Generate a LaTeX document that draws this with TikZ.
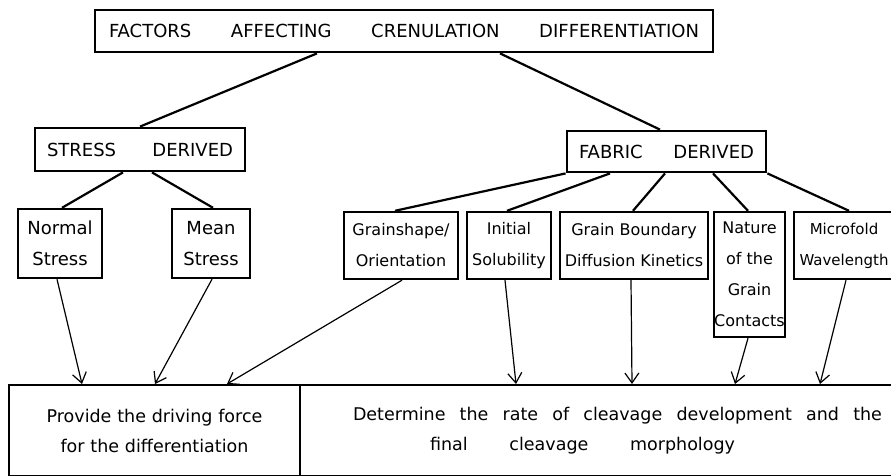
\documentclass[tikz,border=0pt]{standalone}
\usepackage{fontspec}
\setsansfont{DejaVu Sans}
\usetikzlibrary{arrows.meta}

% spread the words of one line over a given width
\newcommand{\spreadline}[2]{\makebox[#1][s]{\spaceskip=0pt\relax #2}}

\begin{document}
\begin{tikzpicture}[
      x=1pt, y=-1pt,
      font=\sffamily,
      >={Straight Barb[length=10pt,width=14pt]},
      head/.style={
        draw,
        line width=2.8pt,
        inner sep=0pt,
        align=center,
        font=\sffamily\fontsize{18}{22}\selectfont
      },
      leaf/.style={
        draw,
        line width=2.4pt,
        inner sep=0pt,
        align=center,
        font=\sffamily\fontsize{16}{31}\selectfont
      },
      wideleaf/.style={
        leaf,
        font=\sffamily\fontsize{18}{31}\selectfont
      },
      outcome/.style={
        draw,
        line width=2pt,
        inner sep=0pt,
        minimum height=91pt,
        font=\sffamily\fontsize{17.5}{30}\selectfont
      },
      branch/.style={line width=2.2pt},
      feeds/.style={->, line width=1.2pt}
    ]
    \useasboundingbox (0,0) rectangle (891,476);

    % Header nodes
    \node[head, minimum width=618pt, minimum height=42pt] (factors) at (404,31)
      {\spreadline{590pt}{FACTORS AFFECTING CRENULATION DIFFERENTIATION}};
    \node[head, minimum width=210pt, minimum height=43pt] (stress) at (140,149.5)
      {\spreadline{186pt}{STRESS DERIVED}};
    \node[head, minimum width=199pt, minimum height=41pt] (fabric) at (666.5,151.5)
      {\spreadline{175pt}{FABRIC DERIVED}};

    % Factor nodes
    \node[wideleaf, minimum width=84pt, minimum height=69pt] (normal) at (60,243.5) {Normal\\Stress};
    \node[wideleaf, minimum width=78pt, minimum height=69pt] (mean) at (211,243.5) {Mean\\Stress};
    \node[leaf, minimum width=114pt, minimum height=67pt] (grainshape) at (401,245.5) {Grainshape/\\Orientation};
    \node[leaf, minimum width=84pt, minimum height=67pt] (initial) at (509,245.5) {Initial\\Solubility};
    \node[leaf, minimum width=148pt, minimum height=67pt] (boundary) at (634,245.5) {Grain Boundary\\Diffusion Kinetics};
    \node[leaf, minimum width=71pt, minimum height=125pt] (nature) at (749.5,274.5) {Nature\\of the\\Grain\\Contacts};
    \node[leaf, minimum width=100pt, minimum height=67pt,
          font=\sffamily\fontsize{15}{31}\selectfont] (microfold) at (844,245.5) {Microfold\\Wavelength};

    % Outcome nodes
    \node[outcome, minimum width=291pt, text width=291pt, align=center] (provide) at (154.5,430.5)
      {Provide the driving force\\for the differentiation};
    \node[outcome, minimum width=600pt, text width=600pt, align=left] (determine) at (600,430.5)
      {\hspace*{53pt}\spreadline{529pt}{Determine the rate of cleavage development and the}\\
       \hspace*{130pt}\spreadline{305pt}{final cleavage morphology}};

    % Tree branches
    \draw[branch] ([xshift=-87pt]factors.south) -- (stress.north);
    \draw[branch] ([xshift=96pt]factors.south) -- ([xshift=-6.5pt]fabric.north);
    \draw[branch] ([xshift=-17pt]stress.south) -- ([xshift=2pt]normal.north);
    \draw[branch] ([xshift=12pt]stress.south) -- ([xshift=2pt]mean.north);
    \draw[branch] (fabric.south west) -- ([xshift=-6pt]grainshape.north);
    \draw[branch] ([xshift=-56.5pt]fabric.south) -- ([xshift=-2pt]initial.north);
    \draw[branch] ([xshift=-1.5pt]fabric.south) -- ([xshift=-1pt]boundary.north);
    \draw[branch] ([xshift=46.5pt]fabric.south) -- ([xshift=-1.5pt]nature.north);
    \draw[branch] (fabric.south east) -- ([xshift=5pt]microfold.north);

    % Arrows to outcomes
    \draw[feeds] ([xshift=-3pt]normal.south) -- ([xshift=-72.5pt]provide.north);
    \draw[feeds] ([xshift=1pt]mean.south) -- ([xshift=0.5pt]provide.north);
    \draw[feeds] ([xshift=1pt]grainshape.south) -- ([xshift=72.5pt]provide.north);
    \draw[feeds] ([xshift=-4pt]initial.south) -- ([xshift=-84pt]determine.north);
    \draw[feeds] ([xshift=-3pt]boundary.south) -- ([xshift=32pt]determine.north);
    \draw[feeds] ([xshift=-1.5pt]nature.south) -- ([xshift=135pt]determine.north);
    \draw[feeds] ([xshift=2pt]microfold.south) -- ([xshift=220pt]determine.north);

  \end{tikzpicture}
\end{document}
